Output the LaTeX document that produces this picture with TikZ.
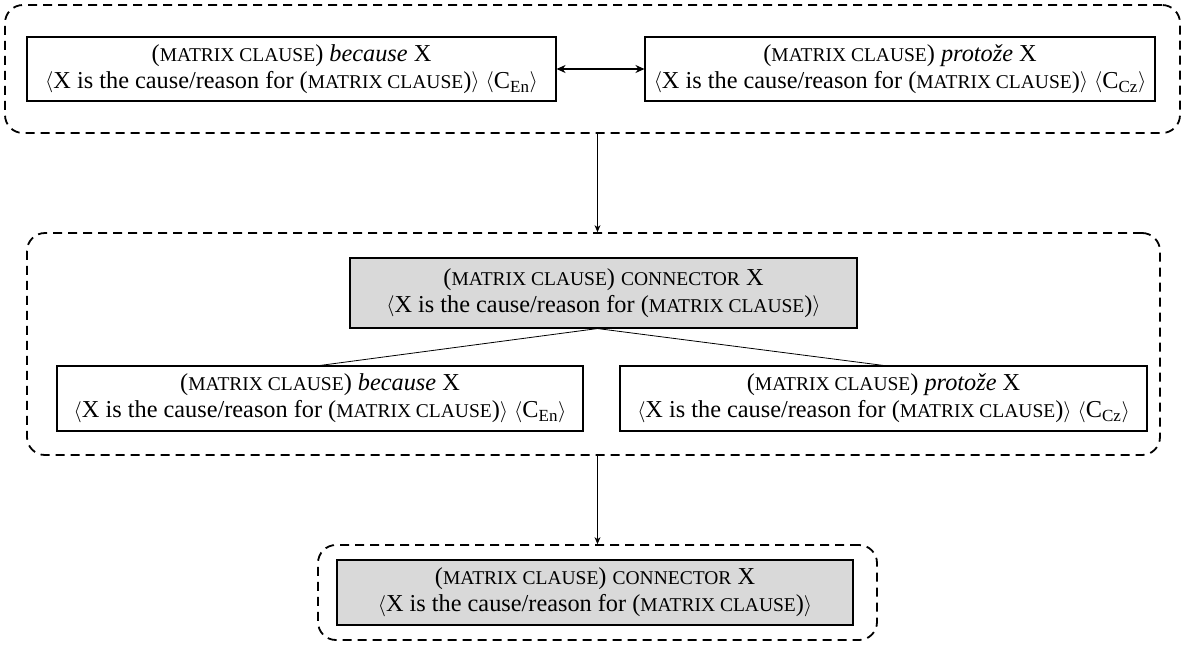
\documentclass[tikz,border=0pt]{standalone}
\usepackage{fontspec}
\setmainfont{Liberation Serif}
\usetikzlibrary{arrows.meta,calc}
% fake small capitals
\newcommand\smallcap[1]{{\fontsize{19.5}{21}\selectfont #1}}
\newcommand\mclause{(\smallcap{MATRIX CLAUSE})}
\newcommand\lang{\raisebox{0.5pt}{\scalebox{0.85}{$\langle$}}}
\newcommand\rang{\raisebox{0.5pt}{\scalebox{0.85}{$\rangle$}}}
\begin{document}
\begin{tikzpicture}[x=1pt,y=-1pt,
  every node/.style={font=\fontsize{24.3}{27}\selectfont},
  card/.style={draw, line width=1.1pt, align=center, inner sep=0pt, anchor=center},
  graycard/.style={card, fill=black!15},
  group/.style={draw, dashed, line width=1.8pt, dash pattern=on 9pt off 6pt, rounded corners=18pt, inner sep=0pt, minimum width=#1},
  arr/.style={-{Stealth[length=7pt,width=6pt]}, line width=0.8pt},
  darr/.style={{Stealth[length=9pt,width=8pt]}-{Stealth[length=9pt,width=8pt]}, line width=1.6pt},
]
\useasboundingbox (0,0) rectangle (1186,648);

% level 1: the two language-specific descriptions
\node[group=1175pt, minimum height=128pt] (topgrp) at (592.5,69) {};
\node[card, minimum width=529pt, minimum height=64pt] (ten) at (291.5,69)
  {\mclause{} \textit{because} X\\ \lang X is the cause/reason for \mclause\rang{} \lang C\textsubscript{En}\rang};
\node[card, minimum width=510pt, minimum height=64pt] (tcz) at (900,69)
  {\mclause{} \textit{protože} X\\ \lang X is the cause/reason for \mclause\rang{} \lang C\textsubscript{Cz}\rang};
\draw[darr] (ten.east) -- (tcz.west);

% level 2: generalised description over both
\node[group=1133pt, minimum height=222pt] (midgrp) at (593.5,344) {};
\node[graycard, minimum width=507pt, minimum height=70pt] (gen) at (603.5,293)
  {\mclause{} \smallcap{CONNECTOR} X\\ \lang X is the cause/reason for \mclause\rang};
\node[card, minimum width=526pt, minimum height=65pt] (ben) at (320,398.5)
  {\mclause{} \textit{because} X\\ \lang X is the cause/reason for \mclause\rang{} \lang C\textsubscript{En}\rang};
\node[card, minimum width=527pt, minimum height=65pt] (bcz) at (883.5,398.5)
  {\mclause{} \textit{protože} X\\ \lang X is the cause/reason for \mclause\rang{} \lang C\textsubscript{Cz}\rang};
\coordinate (gsplit) at ($(gen.south)+(-6,0)$);
\draw[line width=0.8pt] (gsplit) -- (ben.north);
\draw[line width=0.8pt] (gsplit) -- (bcz.north);

% level 3: the generalised description alone
\node[group=559pt, minimum height=95pt] (botgrp) at (597.5,592.5) {};
\node[graycard, minimum width=516pt, minimum height=65pt] (fin) at (595,592.5)
  {\mclause{} \smallcap{CONNECTOR} X\\ \lang X is the cause/reason for \mclause\rang};

% transitions between levels
\draw[arr] (topgrp.south -| botgrp.north) -- (midgrp.north -| botgrp.north);
\draw[arr] (midgrp.south -| botgrp.north) -- (botgrp.north);
\end{tikzpicture}
\end{document}
